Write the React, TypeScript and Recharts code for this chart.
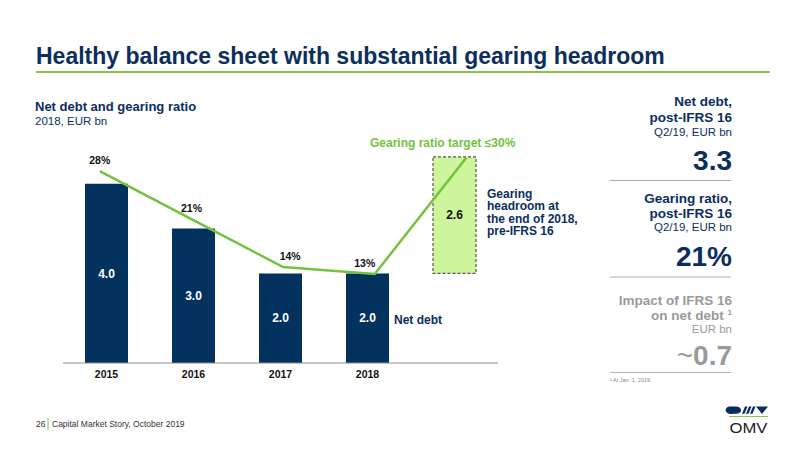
import { ComposedChart, Bar, Line, XAxis, YAxis, LabelList } from 'recharts';

// Net debt (EUR bn) and gearing ratio (%), 2015-2018 plus target headroom column
const categories = ['2015', '2016', '2017', '2018', ''];
const netDebt = [4.0, 3.0, 2.0, 2.0, null];
const headroomBase = [null, null, null, null, 2.0];
const headroom = [null, null, null, null, 2.6];
const gearingRatio = [28, 21, 14, 13, 30];
const gearingLabels = ['28%', '21%', '14%', '13%', ''];

const data = categories.map((year, i) => ({
  year,
  idx: i,
  netDebt: netDebt[i],
  base: headroomBase[i],
  headroom: headroom[i],
  gearing: gearingRatio[i],
  gearingLabel: gearingLabels[i],
}));

const NAVY = '#0b2e5e';
const BAR = '#03325f';
const GREEN = '#74c23e';
const GREY = '#9a9a9a';
const FONT = '"Liberation Sans", Arial, Helvetica, sans-serif';

// small horizontal nudges for the percentage labels
const pctLabelDx = [0, 0, 7, -10, 0];

const PctLabel = (props: any) => {
  const { x, y, value, index } = props;
  if (!value) return null;
  const dx = pctLabelDx[index ?? 0] || 0;
  return (
    <text x={x + dx} y={y - 7} textAnchor="middle" fontSize={10.5} fontWeight="bold" fill="#111" fontFamily={FONT}>
      {value}
    </text>
  );
};

const fmt = (v: any) => (v == null ? '' : Number(v).toFixed(1));

function Overlay() {
  return (
    <svg width={800} height={451} style={{ position: 'absolute', left: 0, top: 0, pointerEvents: 'none' }} fontFamily={FONT}>
      {/* title */}
      <text x={36} y={64} fontSize={23} fontWeight="bold" fill={NAVY}>
        Healthy balance sheet with substantial gearing headroom
      </text>
      <line x1={36} x2={770} y1={72} y2={72} stroke="#86c54a" strokeWidth={2} />

      {/* chart heading */}
      <text x={35} y={111} fontSize={13} fontWeight="bold" fill={NAVY}>Net debt and gearing ratio</text>
      <text x={35} y={124.5} fontSize={11.5} fill={NAVY}>2018, EUR bn</text>

      {/* chart annotations */}
      <text x={370} y={147} fontSize={12} fontWeight="bold" fill={GREEN}>Gearing ratio target ≤30%</text>
      <text x={487} fontSize={12} fontWeight="bold" fill={NAVY}>
        <tspan x={487} y={197.5}>Gearing</tspan>
        <tspan x={487} y={210}>headroom at</tspan>
        <tspan x={487} y={222.5}>the end of 2018,</tspan>
        <tspan x={487} y={235}>pre-IFRS 16</tspan>
      </text>
      <text x={394} y={323.5} fontSize={12} fontWeight="bold" fill={NAVY}>Net debt</text>

      {/* right panel */}
      <g textAnchor="end">
        <text x={732} y={106} fontSize={13.5} fontWeight="bold" fill={NAVY}>Net debt,</text>
        <text x={732} y={122} fontSize={13.5} fontWeight="bold" fill={NAVY}>post-IFRS 16</text>
        <text x={732} y={136} fontSize={11.5} fill={NAVY}>Q2/19, EUR bn</text>
        <text x={732} y={170} fontSize={28} fontWeight="bold" fill={NAVY}>3.3</text>
        <line x1={610} x2={731} y1={180.5} y2={180.5} stroke="#9fb0c4" strokeWidth={1.2} />

        <text x={732} y={203} fontSize={13.5} fontWeight="bold" fill={NAVY}>Gearing ratio,</text>
        <text x={732} y={217.5} fontSize={13.5} fontWeight="bold" fill={NAVY}>post-IFRS 16</text>
        <text x={732} y={231} fontSize={11.5} fill={NAVY}>Q2/19, EUR bn</text>
        <text x={732} y={266} fontSize={28} fontWeight="bold" fill={NAVY}>21%</text>
        <line x1={610} x2={731} y1={277} y2={277} stroke="#9fb0c4" strokeWidth={1.2} />

        <text x={732} y={305} fontSize={13.5} fontWeight="bold" fill={GREY}>Impact of IFRS 16</text>
        <text x={732} y={320} fontSize={13.5} fontWeight="bold" fill={GREY}>
          on net debt <tspan fontSize={8} dy={-5}>1</tspan>
        </text>
        <text x={732} y={333} fontSize={11.5} fill={GREY}>EUR bn</text>
        <text x={732} y={365} fontSize={28} fontWeight="bold" fill={GREY}>
          <tspan fontWeight="normal">~</tspan>0.7
        </text>
        <line x1={610} x2={731} y1={372.5} y2={372.5} stroke="#b5b5b5" strokeWidth={1} />
      </g>
      <text x={610} y={381.5} fontSize={5.5} fill="#888">¹ At Jan. 1, 2019</text>

      {/* footer */}
      <text x={36} y={427} fontSize={8.5} fill="#333">26</text>
      <line x1={48} x2={48} y1={418} y2={430} stroke="#86c54a" strokeWidth={1} />
      <text x={52} y={427} fontSize={8.5} fill="#333">Capital Market Story, October 2019</text>

      {/* logo */}
      <g>
        <path d="M729,406.5 L736,406.5 A5,3.6 0 0 1 736,413.8 L733,413.8 A5,3.6 0 0 1 729,406.5 Z" fill={NAVY} />
        <polygon points="742,413.8 745,406.5 747.5,406.5 744.5,413.8" fill={NAVY} />
        <polygon points="746,413.8 749,406.5 751.5,406.5 748.5,413.8" fill={NAVY} />
        <polygon points="750,413.8 753,406.5 755.5,406.5 752.5,413.8" fill={NAVY} />
        <polygon points="756,406.5 768,406.5 762,414" fill={NAVY} />
        <line x1={729} x2={768} y1={416.5} y2={416.5} stroke="#86c54a" strokeWidth={1} />
        <text x={729.5} y={433} fontSize={14} fill="#222" textLength={38} lengthAdjust="spacingAndGlyphs">OMV</text>
      </g>
    </svg>
  );
}

export default function App() {
  return (
    <div style={{ position: 'absolute', left: 0, top: 0, width: 800, height: 451, background: '#fff', fontFamily: FONT }}>
      <ComposedChart
        width={800}
        height={451}
        data={data}
        margin={{ top: 139, right: 302, bottom: 58, left: 63 }}
      >
        <XAxis
          xAxisId="cat"
          dataKey="year"
          height={30}
          tickLine={false}
          axisLine={{ stroke: '#8c8c8c', strokeWidth: 1 }}
          tick={{ fill: '#111', fontSize: 10.5, fontWeight: 'bold', fontFamily: FONT }}
          interval={0}
        />
        <XAxis xAxisId="line" dataKey="idx" type="number" domain={[-0.4015, 4.344]} allowDataOverflow hide />
        <YAxis yAxisId="debt" domain={[0, 5]} allowDataOverflow hide />
        <YAxis yAxisId="pct" domain={[0, 32.7]} allowDataOverflow hide />

        <Bar xAxisId="cat" yAxisId="debt" dataKey="netDebt" stackId="s" fill={BAR} barSize={43} isAnimationActive={false}>
          <LabelList dataKey="netDebt" position="center" formatter={fmt} fill="#fff" fontSize={12} fontWeight="bold" fontFamily={FONT} />
        </Bar>
        <Bar xAxisId="cat" yAxisId="debt" dataKey="base" stackId="s" fill="transparent" barSize={43} isAnimationActive={false} />
        <Bar
          xAxisId="cat"
          yAxisId="debt"
          dataKey="headroom"
          stackId="s"
          fill="#ccf59c"
          stroke="#555"
          strokeWidth={1.2}
          strokeDasharray="3 2"
          barSize={43}
          isAnimationActive={false}
        >
          <LabelList dataKey="headroom" position="center" formatter={fmt} fill="#111" fontSize={12} fontWeight="bold" fontFamily={FONT} />
        </Bar>

        <Line
          xAxisId="line"
          yAxisId="pct"
          dataKey="gearing"
          type="linear"
          stroke={GREEN}
          strokeWidth={2.5}
          dot={false}
          isAnimationActive={false}
        >
          <LabelList dataKey="gearingLabel" content={<PctLabel />} />
        </Line>
      </ComposedChart>
      <Overlay />
    </div>
  );
}
